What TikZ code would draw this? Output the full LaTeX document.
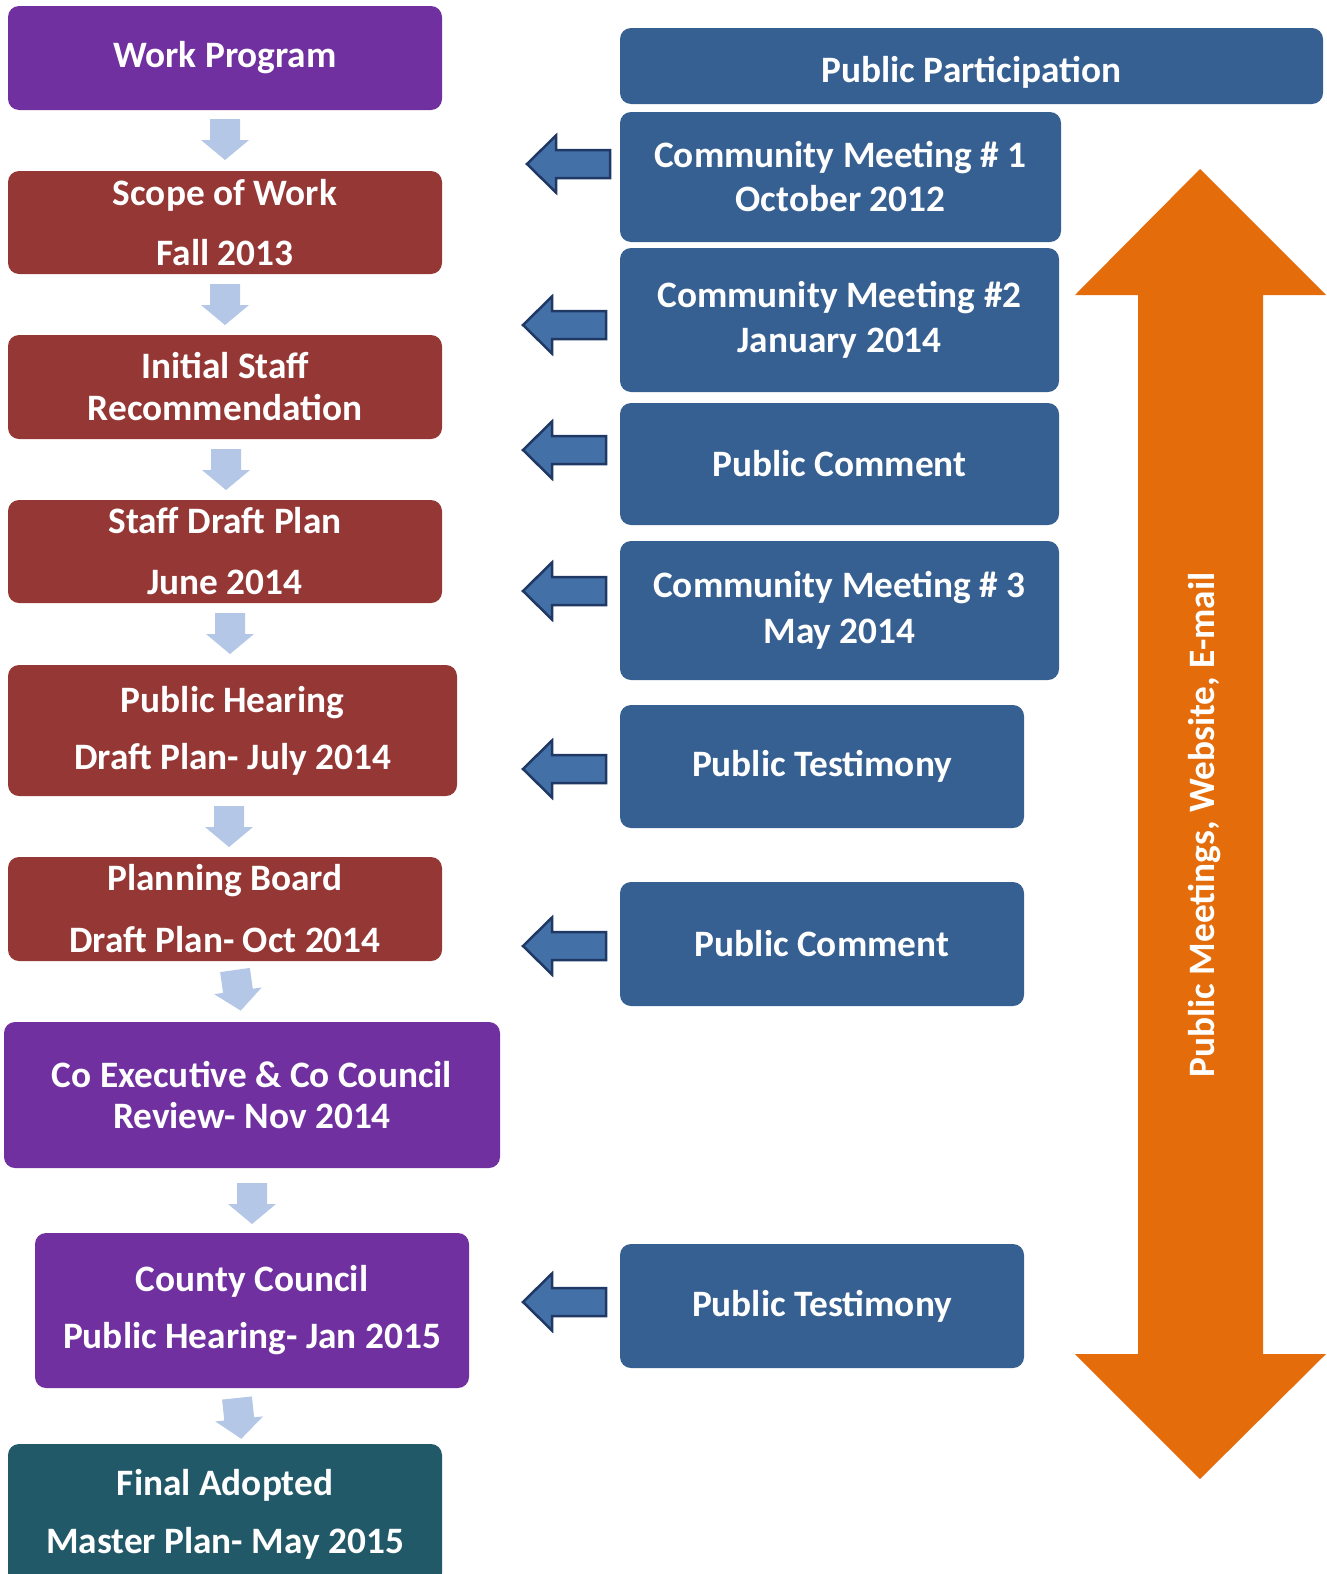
\documentclass[tikz,border=0pt]{standalone}
\usepackage{fontspec}
\setmainfont{Carlito}
\definecolor{purp}{HTML}{7030A0}
\definecolor{redb}{HTML}{953735}
\definecolor{tealb}{HTML}{215968}
\definecolor{blueb}{HTML}{376092}
\definecolor{lblue}{HTML}{B4C7E7}
\definecolor{arrfill}{HTML}{4470A8}
\definecolor{arrline}{HTML}{1F3864}
\definecolor{orng}{HTML}{E46C0A}
\begin{document}
\begin{tikzpicture}[x=1pt,y=-1pt,
  box/.style={rounded corners=11pt, text=white, font=\bfseries\fontsize{37.3}{44}\selectfont, align=center, inner sep=0pt},
  downarr/.pic={\fill[lblue] (-15,0) -- (15,0) -- (15,21) -- (24,21) -- (0,41) -- (-24,21) -- (-15,21) -- cycle;},
  leftarr/.pic={\filldraw[fill=arrfill, draw=arrline, line width=2.5pt, line join=miter] (0,0) -- (29,-28.5) -- (29,-14) -- (83,-14) -- (83,14) -- (29,14) -- (29,28.5) -- cycle;}]
\useasboundingbox (0,0) rectangle (1327,1574);
\clip (0,0) rectangle (1327,1574);
% left column
\node[box, fill=purp, minimum width=434pt, minimum height=104pt] (wp) at (225,58) {Work Program};
\node[box, fill=redb, minimum width=434pt, minimum height=103pt] (scope) at (225,222.5) {Scope of Work\\[16pt]Fall 2013};
\node[box, fill=redb, minimum width=434pt, minimum height=104pt] (initial) at (225,387) {Initial Staff\\[-2pt]Recommendation};
\node[box, fill=redb, minimum width=434pt, minimum height=103pt] (draft) at (225,551.5) {Staff Draft Plan\\[17pt]June 2014};
\node[box, fill=redb, minimum width=449pt, minimum height=131pt] (hearing) at (232.5,730.5) {Public Hearing\\[13pt]Draft Plan- July 2014};
\node[box, fill=redb, minimum width=434pt, minimum height=104pt] (board) at (225,909) {Planning Board\\[18pt]Draft Plan- Oct 2014};
\node[box, fill=purp, minimum width=496pt, minimum height=146pt] (coexec) at (252,1095) {Co Executive \& Co Council\\[-3pt]Review- Nov 2014};
\node[box, fill=purp, minimum width=434pt, minimum height=155pt] (county) at (252,1310.5) {County Council\\[13pt]Public Hearing- Jan 2015};
\node[box, fill=tealb, minimum width=434pt, minimum height=140pt] (final) at (225,1514) {Final Adopted\\[14pt]Master Plan- May 2015};
% down arrows
\pic at (225,119) {downarr};
\pic at (225,284) {downarr};
\pic at (226,449) {downarr};
\pic at (230,613) {downarr};
\pic at (229,806) {downarr};
\pic[rotate=8] at (235,970) {downarr};
\pic at (252,1183) {downarr};
\pic[rotate=6] at (237,1398) {downarr};
% right column
\node[box, fill=blueb, minimum width=703pt, minimum height=76pt] (pp) at (971.5,66) {\raisebox{-6pt}[\height][\depth]{Public Participation}};
\node[box, fill=blueb, minimum width=441pt, minimum height=130pt] (b1) at (840.5,177) {Community Meeting \# 1\\[0pt]October 2012};
\node[box, fill=blueb, minimum width=439pt, minimum height=144pt] (b2) at (839.5,320) {Community Meeting \#2\\[1pt]January 2014};
\node[box, fill=blueb, minimum width=439pt, minimum height=122pt] (b3) at (839.5,464) {Public Comment};
\node[box, fill=blueb, minimum width=439pt, minimum height=139pt] (b4) at (839.5,610.5) {Community Meeting \# 3\\[2pt]May 2014};
\node[box, fill=blueb, minimum width=404pt, minimum height=123pt] (b5) at (822,766.5) {Public Testimony};
\node[box, fill=blueb, minimum width=404pt, minimum height=124pt] (b6) at (822,944) {Public Comment};
\node[box, fill=blueb, minimum width=404pt, minimum height=124pt] (b7) at (822,1306) {Public Testimony};
% left arrows
\pic at (527,164) {leftarr};
\pic at (523,325) {leftarr};
\pic at (523,450) {leftarr};
\pic at (523,591) {leftarr};
\pic at (523,769) {leftarr};
\pic at (523,946) {leftarr};
\pic at (523,1302) {leftarr};
% orange double arrow
\fill[orng] (1200,169) -- (1326,295) -- (1263,295) -- (1263,1354) -- (1326,1354) -- (1200,1479) -- (1075,1354) -- (1138,1354) -- (1138,295) -- (1075,295) -- cycle;
\node[box, rotate=90] (pm) at (1205,825) {Public Meetings, Website, E-mail};
\end{tikzpicture}
\end{document}
